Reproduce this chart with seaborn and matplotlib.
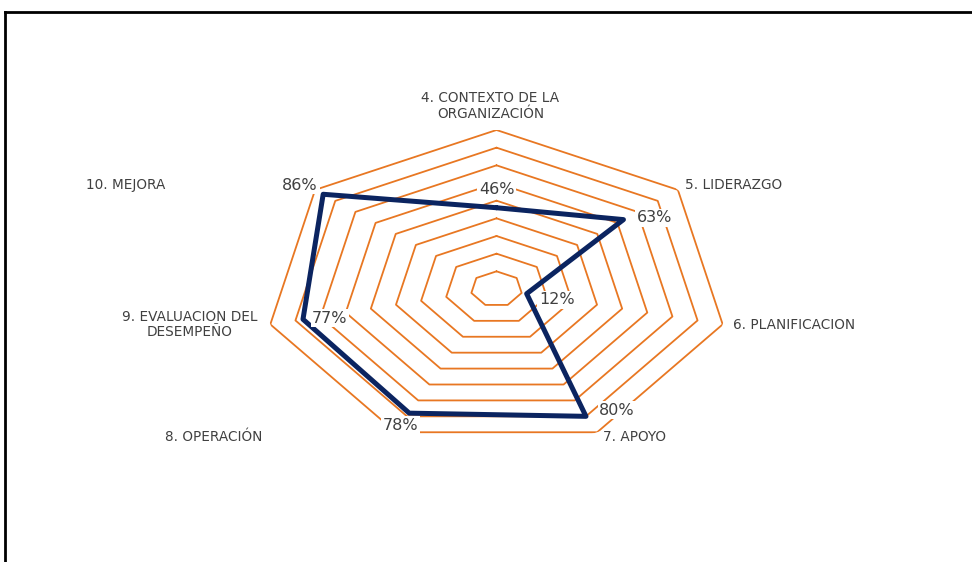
import numpy as np
import pandas as pd
import matplotlib
matplotlib.use("Agg")
import matplotlib.pyplot as plt
from matplotlib.lines import Line2D
import seaborn as sns

# Categories (clockwise from the top) and their compliance values
categories = [
    "4. CONTEXTO DE LA\nORGANIZACIÓN",
    "5. LIDERAZGO",
    "6. PLANIFICACION",
    "7. APOYO",
    "8. OPERACIÓN",
    "9. EVALUACION DEL\nDESEMPEÑO",
    "10. MEJORA",
]
values = [0.46, 0.63, 0.12, 0.80, 0.78, 0.77, 0.86]
value_labels = ["46%", "63%", "12%", "80%", "78%", "77%", "86%"]
ring_levels = [0.1, 0.2, 0.3, 0.4, 0.5, 0.6, 0.7, 0.8, 0.9]
r_max = 0.9

sns.set_theme(style="white")
plt.rcParams["font.family"] = ["DejaVu Sans"]

W, H = 972, 562
fig = plt.figure(figsize=(W / 100, H / 100), dpi=100)
fig.patch.set_facecolor("white")

# Polar axes stretched to an elliptical footprint
ax = fig.add_axes([264.5 / W, 114 / H, 464 / W, 318 / H], projection="polar")
ax.set_aspect("auto")
ax.set_theta_offset(np.pi / 2)
ax.set_theta_direction(-1)
ax.set_ylim(0, r_max)
ax.grid(False)
ax.spines["polar"].set_visible(False)
ax.set_xticks([])
ax.set_yticks([])
ax.set_facecolor("none")

n = len(categories)
theta = np.arange(n) * 2 * np.pi / n
theta_closed = np.append(theta, theta[0])

# Heptagonal grid rings
orange = "#E87722"
for lvl in ring_levels:
    ax.plot(theta_closed, [lvl] * (n + 1), color=orange, lw=1.3, zorder=1)

# Data polygon
df = pd.DataFrame({"theta": theta_closed, "value": values + values[:1]})
sns.lineplot(data=df, x="theta", y="value", sort=False, ax=ax,
             color="#0B2460", lw=3.6, zorder=3, estimator=None)
ax.set_xlabel("")
ax.set_ylabel("")

# Category labels: (offset px, ha)
cat_style = [
    ((-6, 24), "center"),
    ((7, 5), "left"),
    ((10, -1), "left"),
    ((6, -5), "left"),
    ((-182, -5), "center"),
    ((-13, 0), "right"),
    ((-189, 5), "center"),
]
for t, lab, (off, ha) in zip(theta, categories, cat_style):
    ax.annotate(lab, xy=(t, r_max), xytext=off, textcoords="offset pixels",
                ha=ha, va="center", multialignment="center",
                fontsize=9.8, color="#404040", annotation_clip=False,
                linespacing=1.15)

# Value labels
val_offsets = [(0, 18), (31, 2), (30, -6), (31, 6), (-9, -12), (27, 1), (-23, 9)]
for t, v, lab, off in zip(theta, values, value_labels, val_offsets):
    ax.annotate(lab, xy=(t, v), xytext=off, textcoords="offset pixels",
                ha="center", va="center", fontsize=11.5, color="#404040",
                annotation_clip=False, zorder=4,
                bbox=dict(boxstyle="square,pad=0.1", fc="white", ec="none"))

# Frame lines along the left and top edges
lw_pt = 2.0
x0 = 5 / W
y0 = 1 - 12 / H
fig.add_artist(Line2D([x0, x0], [0, y0], transform=fig.transFigure,
                      color="black", lw=lw_pt, solid_capstyle="projecting"))
fig.add_artist(Line2D([x0, 1], [y0, y0], transform=fig.transFigure,
                      color="black", lw=lw_pt, solid_capstyle="projecting"))

fig.savefig("out.png", dpi=100, facecolor="white")
